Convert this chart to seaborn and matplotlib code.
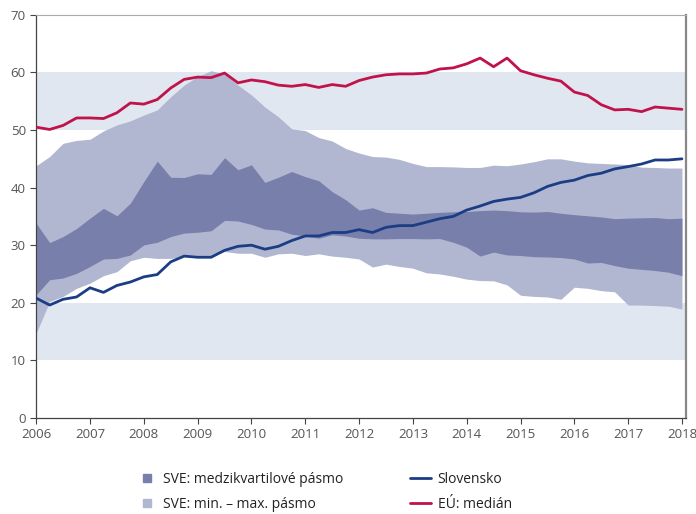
import numpy as np
import pandas as pd
import seaborn as sns
import matplotlib.pyplot as plt
from matplotlib.patches import Patch
from matplotlib.lines import Line2D

# quarterly data 2006Q1 .. 2018Q1
quarters = np.arange(2006, 2018.01, 0.25)

eu_median = [50.5, 50.1, 50.8, 52.1, 52.1, 52.0, 53.0, 54.7, 54.5, 55.3, 57.3, 58.8, 59.2, 59.1, 59.9, 58.2,
             58.7, 58.4, 57.8, 57.6, 57.9, 57.4, 57.9, 57.6, 58.6, 59.2, 59.6, 59.75, 59.75, 59.9, 60.6, 60.8,
             61.5, 62.5, 61.0, 62.5, 60.3, 59.6, 59.0, 58.5, 56.6, 56.0, 54.4, 53.5, 53.6, 53.2, 54.0, 53.8, 53.6]

slovensko = [20.8, 19.6, 20.6, 21.0, 22.6, 21.8, 23.0, 23.6, 24.5, 24.9, 27.1, 28.1, 27.9, 27.9, 29.1, 29.8,
             30.0, 29.3, 29.8, 30.8, 31.6, 31.6, 32.2, 32.2, 32.7, 32.2, 33.1, 33.4, 33.4, 34.0, 34.6, 35.0,
             36.1, 36.8, 37.6, 38.0, 38.3, 39.1, 40.2, 40.9, 41.3, 42.1, 42.5, 43.25, 43.65, 44.1, 44.8, 44.8, 45.0]

sve_max = [43.8, 45.4, 47.7, 48.2, 48.4, 49.85, 50.9, 51.6, 52.6, 53.5, 55.8, 57.8, 59.3, 60.3, 59.75, 57.8,
           56.1, 54.0, 52.3, 50.2, 49.9, 48.7, 48.1, 46.8, 46.0, 45.4, 45.3, 44.9, 44.2, 43.65, 43.65, 43.6,
           43.5, 43.5, 43.9, 43.8, 44.1, 44.5, 45.0, 45.0, 44.6, 44.3, 44.2, 44.1, 44.0, 43.55, 43.5, 43.4, 43.4]

sve_min = [14.7, 20.2, 21.1, 22.5, 23.4, 24.7, 25.4, 27.3, 27.9, 27.7, 27.7, 28.0, 28.0, 28.1, 28.9, 28.6,
           28.6, 27.9, 28.5, 28.6, 28.2, 28.5, 28.1, 27.9, 27.6, 26.2, 26.7, 26.3, 26.0, 25.2, 25.0, 24.6,
           24.1, 23.85, 23.8, 23.1, 21.3, 21.1, 21.0, 20.6, 22.7, 22.5, 22.1, 21.9, 19.6, 19.6, 19.5, 19.4, 18.9]

sve_q3 = [33.8, 30.45, 31.5, 32.9, 34.7, 36.4, 35.1, 37.3, 41.05, 44.6, 41.8, 41.75, 42.4, 42.3, 45.2, 43.1,
          43.95, 40.9, 41.8, 42.8, 41.9, 41.2, 39.3, 37.9, 36.1, 36.5, 35.7, 35.55, 35.4, 35.55, 35.7, 35.8,
          35.85, 36.0, 36.1, 36.0, 35.8, 35.75, 35.85, 35.55, 35.3, 35.1, 34.9, 34.6, 34.7, 34.75, 34.8, 34.6, 34.7]

sve_q1 = [21.4, 24.0, 24.3, 25.1, 26.3, 27.6, 27.7, 28.3, 30.05, 30.5, 31.5, 32.1, 32.25, 32.5, 34.3, 34.2,
          33.6, 32.8, 32.65, 31.9, 31.6, 31.2, 31.8, 31.6, 31.2, 31.1, 31.1, 31.15, 31.15, 31.1, 31.15, 30.5,
          29.65, 28.1, 28.8, 28.3, 28.2, 28.0, 27.95, 27.85, 27.6, 26.9, 27.0, 26.45, 26.0, 25.8, 25.6, 25.3, 24.7]

years = list(range(2006, 2019))
shaded_ranges = [(10, 20), (50, 60)]

df = pd.DataFrame({'t': quarters, 'Slovensko': slovensko, 'EÚ: medián': eu_median})

c_iqr = '#787fab'
c_range = '#b1b7d1'
c_sk = '#1b3d84'
c_eu = '#c0124b'
c_bg = '#e1e7f1'

sns.set_style('white')
plt.rcParams['font.family'] = ['Open Sans', 'DejaVu Sans']

fig = plt.figure(figsize=(6.96, 5.14), dpi=100)
ax = fig.add_axes([0.052, 0.187, 0.934, 0.784])

for lo, hi in shaded_ranges:
    ax.axhspan(lo, hi, color=c_bg, lw=0, zorder=0)

ax.fill_between(quarters, sve_min, sve_max, color=c_range, lw=0, zorder=1)
ax.fill_between(quarters, sve_q1, sve_q3, color=c_iqr, lw=0, zorder=2)

sns.lineplot(data=df, x='t', y='Slovensko', color=c_sk, lw=2, ax=ax, zorder=3)
sns.lineplot(data=df, x='t', y='EÚ: medián', color=c_eu, lw=2, ax=ax, zorder=3)

ax.set_xlim(2006, 2018.08)
ax.set_ylim(0, 70)
ax.set_xticks(years)
ax.set_yticks(range(0, 71, 10))
ax.set_xlabel('')
ax.set_ylabel('')
ax.tick_params(axis='both', direction='out', length=4, width=0.8, color='#444444',
               labelsize=9.5, labelcolor='#555555', bottom=True, left=True)
for side in ['left', 'bottom']:
    ax.spines[side].set_color('#444444')
    ax.spines[side].set_linewidth(0.9)
ax.spines['top'].set_color('#aaaaaa')
ax.spines['right'].set_color('#888888')
ax.spines['right'].set_linewidth(1.6)

leg_kw = dict(loc='upper left', frameon=False, fontsize=10, labelspacing=0.72,
              borderpad=0, borderaxespad=0, labelcolor='#222222')
leg1 = fig.legend(handles=[Patch(color=c_iqr, label='SVE: medzikvartilové pásmo'),
                           Patch(color=c_range, label='SVE: min. – max. pásmo')],
                  bbox_to_anchor=(0.205, 0.082), handlelength=0.6, handleheight=0.6,
                  handletextpad=0.85, **leg_kw)
leg2 = fig.legend(handles=[Line2D([], [], color=c_sk, lw=2, label='Slovensko'),
                           Line2D([], [], color=c_eu, lw=2, label='EÚ: medián')],
                  bbox_to_anchor=(0.589, 0.082), handlelength=1.5,
                  handletextpad=0.5, **leg_kw)

fig.savefig('out.png', dpi=100)
